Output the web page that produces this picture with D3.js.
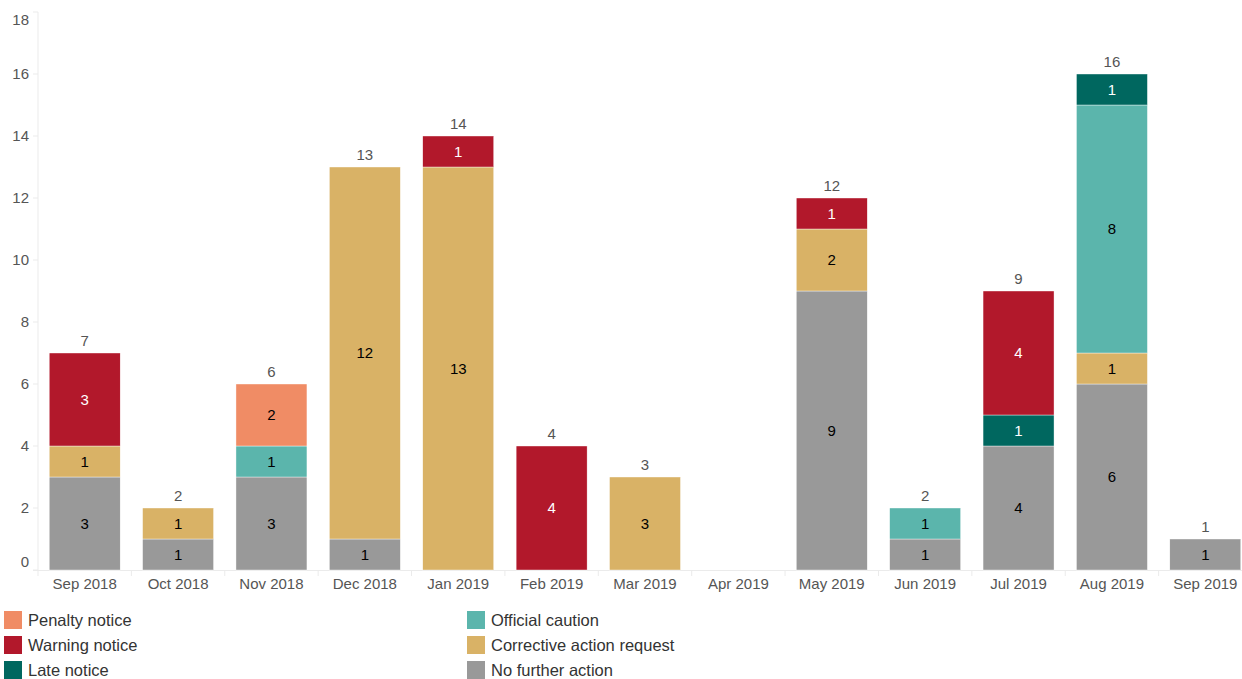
<!DOCTYPE html>
<html><head><meta charset="utf-8">
<script src="https://cdn.jsdelivr.net/npm/d3@7"></script>
<style>body{margin:0;background:#fff;font-family:"Liberation Sans",Arial,sans-serif;}svg{display:block}</style>
</head><body><svg id="c" width="1242" height="679"></svg>
<script>
const months = ["Sep 2018","Oct 2018","Nov 2018","Dec 2018","Jan 2019","Feb 2019","Mar 2019","Apr 2019","May 2019","Jun 2019","Jul 2019","Aug 2019","Sep 2019"];
const seriesNames = ["No further action","Corrective action request","Official caution","Late notice","Warning notice","Penalty notice"];
const noFurtherAction   = [3,1,3,1,0,0,0,0,9,1,4,6,1];
const correctiveAction  = [1,1,0,12,13,0,3,0,2,0,0,1,0];
const officialCaution   = [0,0,1,0,0,0,0,0,0,1,0,8,0];
const lateNotice        = [0,0,0,0,0,0,0,0,0,0,1,1,0];
const warningNotice     = [3,0,0,0,1,4,0,0,1,0,4,0,0];
const penaltyNotice     = [0,0,2,0,0,0,0,0,0,0,0,0,0];
const yTicks = [0,2,4,6,8,10,12,14,16,18];
const colors = ["#999999","#D9B266","#5BB5AC","#00675F","#B2182B","#F08C65"];
const labelColors = ["#000","#000","#000","#fff","#fff","#000"];
const legendOrder = [["Penalty notice","Official caution"],["Warning notice","Corrective action request"],["Late notice","No further action"]];

const values = [noFurtherAction,correctiveAction,officialCaution,lateNotice,warningNotice,penaltyNotice];
const rows = months.map((m,i)=>{const r={month:m};seriesNames.forEach((s,k)=>r[s]=values[k][i]);return r;});
const stack = d3.stack().keys(seriesNames)(rows);
const totals = months.map((m,i)=>d3.sum(values,v=>v[i]));

const svg = d3.select("#c");
const x = d3.scaleBand().domain(months).range([38,1252]).paddingInner(0.24).paddingOuter(0.12);
const y = d3.scaleLinear().domain([0,18]).range([570,12]);

// y axis
svg.append("line").attr("x1",38).attr("x2",38).attr("y1",12).attr("y2",570).attr("stroke","#ebebeb");
const yt = svg.append("g");
yTicks.forEach(t=>{
  yt.append("line").attr("x1",33).attr("x2",38).attr("y1",y(t)).attr("y2",y(t)).attr("stroke","#ebebeb");
  const off = t===0 ? -8 : (t===18 ? 8 : 0);
  yt.append("text").attr("x",29).attr("y",y(t)+off).attr("dy","0.35em").attr("text-anchor","end")
    .attr("font-size",15).attr("fill","#555").text(t);
});
// x axis
svg.append("line").attr("x1",33).attr("x2",1242).attr("y1",570.5).attr("y2",570.5).attr("stroke","#ebebeb");
months.forEach((m,i)=>{
  const bx = x(m) - x.step()*x.paddingInner()/2;
  svg.append("line").attr("x1",bx).attr("x2",bx).attr("y1",570).attr("y2",576).attr("stroke","#ebebeb");
  svg.append("text").attr("x",x(m)+x.bandwidth()/2).attr("y",584).attr("dy","0.35em").attr("text-anchor","middle")
    .attr("font-size",15).attr("fill","#555").text(m);
});

// bars
stack.forEach((s,k)=>{
  const g = svg.append("g");
  s.forEach((d,i)=>{
    if(d[1]-d[0]<=0) return;
    g.append("rect").attr("x",x(months[i])).attr("width",x.bandwidth())
      .attr("y",y(d[1])).attr("height",y(d[0])-y(d[1])).attr("fill",colors[k])
      .attr("stroke","#fff").attr("stroke-width",0.4);
    g.append("text").attr("x",x(months[i])+x.bandwidth()/2).attr("y",(y(d[0])+y(d[1]))/2).attr("dy","0.35em")
      .attr("text-anchor","middle").attr("font-size",15).attr("fill",labelColors[k]).text(d[1]-d[0]);
  });
});
// totals
months.forEach((m,i)=>{
  if(totals[i]<=0) return;
  svg.append("text").attr("x",x(m)+x.bandwidth()/2).attr("y",y(totals[i])-12).attr("dy","0.35em")
    .attr("text-anchor","middle").attr("font-size",15).attr("fill","#555").text(totals[i]);
});

// legend
const lx = [4,467];
legendOrder.forEach((row,r)=>{
  row.forEach((name,c)=>{
    const k = seriesNames.indexOf(name);
    const ly = 620 + r*25;
    svg.append("rect").attr("x",lx[c]).attr("y",ly-9).attr("width",18).attr("height",18).attr("fill",colors[k]);
    svg.append("text").attr("x",lx[c]+24).attr("y",ly).attr("dy","0.35em").attr("font-size",16.5).attr("fill","#333").text(name);
  });
});
</script></body></html>
